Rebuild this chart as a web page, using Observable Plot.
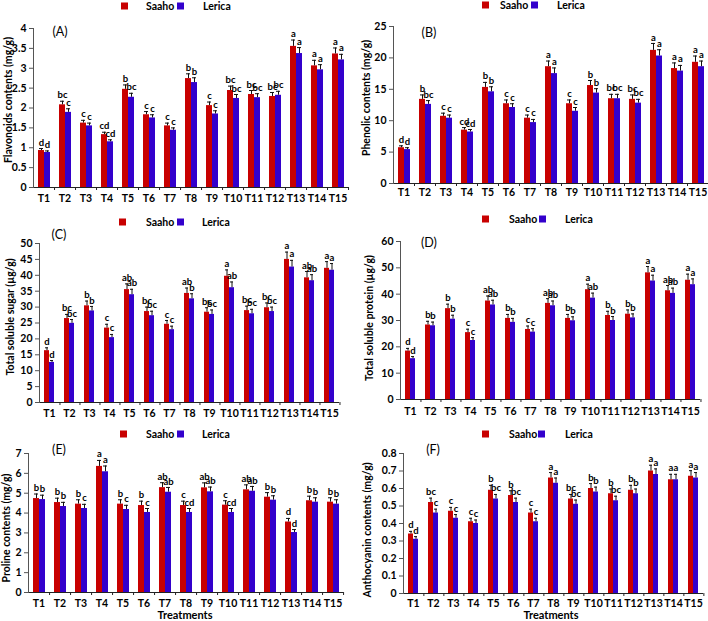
<!DOCTYPE html>
<html>
<head>
<meta charset="utf-8">
<script src="https://cdn.jsdelivr.net/npm/d3@7"></script>
<script src="https://cdn.jsdelivr.net/npm/@observablehq/plot@0.6"></script>
<style>
  html, body { margin: 0; padding: 0; background: #fff; }
  #root { position: relative; width: 708px; height: 621px; overflow: hidden; background: #fff;
          font-family: Lato, "Open Sans", "Liberation Sans", sans-serif; }
  .abs { position: absolute; white-space: nowrap; line-height: 1; }
  .ylab { font-weight: bold; font-size: 10.5px; color: #000; transform: translate(-50%, -50%) rotate(-90deg); }
  .plab { font-size: 12.5px; color: #000; transform: translate(-50%, -50%); }
  .leg { font-weight: bold; font-size: 10.5px; color: #000; transform: translateY(-50%); }
  .sq { width: 7px; height: 7px; transform: translateY(-50%); }
  .xlab { font-weight: bold; font-size: 11px; color: #000; transform: translate(-50%, -50%); }
</style>
</head>
<body>
<div id="root"></div>
<script>
// ---------- data ----------
const treatments = ["T1","T2","T3","T4","T5","T6","T7","T8","T9","T10","T11","T12","T13","T14","T15"];
const series = ["Saaho", "Lerica"];
const seriesColors = ["#c80000", "#3300cc"];

// (A) Flavonoids contents (mg/g)
const flavSaaho  = [0.93, 2.08, 1.62, 1.33, 2.47, 1.83, 1.55, 2.74, 2.06, 2.44, 2.34, 2.29, 3.55, 3.06, 3.36];
const flavLerica = [0.88, 1.89, 1.55, 1.15, 2.27, 1.75, 1.44, 2.64, 1.85, 2.24, 2.26, 2.32, 3.37, 2.96, 3.21];
const flavSaahoErr  = [0.05, 0.09, 0.07, 0.06, 0.11, 0.08, 0.07, 0.12, 0.09, 0.11, 0.10, 0.10, 0.16, 0.14, 0.15];
const flavLericaErr = [0.04, 0.09, 0.07, 0.05, 0.10, 0.08, 0.06, 0.12, 0.08, 0.10, 0.10, 0.10, 0.15, 0.13, 0.14];
const flavSaahoLet  = ["d","bc","c","cd","b","c","c","b","c","bc","bc","bc","a","a","a"];
const flavLericaLet = ["d","c","c","cd","bc","c","c","b","c","bc","bc","bc","a","a","a"];
const flavTicks = [0, 0.5, 1, 1.5, 2, 2.5, 3, 3.5, 4];

// (B) Phenolic contents (mg/g)
const phenSaaho  = [5.7, 13.4, 10.7, 8.5, 15.3, 12.7, 10.4, 18.6, 12.7, 15.6, 13.5, 13.4, 21.2, 18.3, 19.3];
const phenLerica = [5.4, 12.6, 10.4, 8.2, 14.6, 12.1, 9.7, 17.5, 11.5, 14.4, 13.5, 12.8, 20.3, 17.9, 18.6];
const phenSaahoErr  = [0.3, 0.7, 0.5, 0.4, 0.8, 0.6, 0.5, 0.9, 0.6, 0.8, 0.7, 0.7, 1.1, 0.9, 1.0];
const phenLericaErr = [0.3, 0.6, 0.5, 0.4, 0.8, 0.6, 0.5, 0.9, 0.6, 0.7, 0.7, 0.6, 1.0, 0.9, 0.9];
const phenSaahoLet  = ["d","b","c","cd","b","c","c","a","c","b","bc","bc","a","a","a"];
const phenLericaLet = ["d","bc","c","cd","b","c","c","a","c","b","bc","bc","a","a","a"];
const phenTicks = [0, 5, 10, 15, 20, 25];

// (C) Total soluble sugar (µg/g)
const sugSaaho  = [16.3, 26.4, 30.4, 23.4, 35.5, 28.6, 24.6, 34.3, 28.4, 39.7, 28.9, 29.8, 45.0, 39.2, 42.2];
const sugLerica = [12.6, 24.9, 28.8, 20.4, 33.9, 27.3, 22.9, 32.6, 27.7, 36.1, 27.9, 28.6, 42.6, 38.3, 41.6];
const sugSaahoErr  = [0.9, 1.3, 1.5, 1.2, 1.8, 1.4, 1.2, 1.7, 1.4, 2.0, 1.4, 1.5, 2.3, 2.0, 2.1];
const sugLericaErr = [0.6, 1.2, 1.4, 1.0, 1.7, 1.4, 1.1, 1.6, 1.4, 1.8, 1.4, 1.4, 2.1, 1.9, 2.1];
const sugSaahoLet  = ["d","bc","b","c","ab","bc","c","ab","bc","a","bc","bc","a","ab","a"];
const sugLericaLet = ["d","bc","b","c","ab","bc","c","b","bc","ab","bc","bc","a","ab","a"];
const sugTicks = [0, 5, 10, 15, 20, 25, 30, 35, 40, 45, 50];

// (D) Total soluble protein (µg/g)
const protSaaho  = [18.4, 28.3, 34.5, 25.4, 37.4, 30.8, 26.6, 36.5, 30.8, 41.7, 31.9, 32.4, 48.1, 41.3, 45.3];
const protLerica = [15.5, 28.0, 30.5, 22.4, 35.9, 29.3, 25.6, 35.6, 29.9, 38.5, 30.0, 31.0, 45.0, 40.3, 43.6];
const protSaahoErr  = [1.0, 1.4, 1.7, 1.3, 1.9, 1.5, 1.3, 1.8, 1.5, 2.1, 1.6, 1.6, 2.4, 2.0, 2.3];
const protLericaErr = [0.8, 1.4, 1.5, 1.1, 1.8, 1.5, 1.3, 1.8, 1.5, 1.9, 1.5, 1.5, 2.2, 2.0, 2.2];
const protSaahoLet  = ["d","b","b","c","ab","b","c","ab","b","a","b","b","a","ab","a"];
const protLericaLet = ["d","b","b","c","ab","b","c","ab","b","ab","b","b","a","ab","a"];
const protTicks = [0, 10, 20, 30, 40, 50, 60];

// (E) Proline contents (mg/g)
const proSaaho  = [4.73, 4.53, 4.45, 6.35, 4.45, 4.38, 5.28, 4.38, 5.27, 4.40, 5.17, 4.80, 3.55, 4.62, 4.55];
const proLerica = [4.68, 4.33, 4.23, 6.08, 4.18, 4.03, 5.05, 4.03, 5.07, 4.03, 5.10, 4.65, 3.02, 4.55, 4.45];
const proSaahoErr  = [0.23, 0.22, 0.22, 0.30, 0.22, 0.22, 0.25, 0.22, 0.25, 0.22, 0.25, 0.23, 0.18, 0.23, 0.22];
const proLericaErr = [0.22, 0.21, 0.21, 0.29, 0.21, 0.20, 0.24, 0.20, 0.24, 0.20, 0.24, 0.22, 0.15, 0.22, 0.22];
const proSaahoLet  = ["b","b","b","a","b","b","ab","c","ab","c","ab","b","d","b","b"];
const proLericaLet = ["b","b","c","a","c","c","ab","cd","ab","cd","ab","b","d","b","b"];
const proTicks = [0, 1, 2, 3, 4, 5, 6, 7];

// (F) Anthocyanin contents (mg/g)
const antSaaho  = [0.34, 0.52, 0.47, 0.41, 0.59, 0.56, 0.46, 0.66, 0.54, 0.60, 0.57, 0.59, 0.70, 0.65, 0.67];
const antLerica = [0.31, 0.46, 0.43, 0.40, 0.54, 0.52, 0.41, 0.63, 0.51, 0.58, 0.53, 0.57, 0.68, 0.65, 0.66];
const antSaahoErr  = [0.015, 0.025, 0.022, 0.020, 0.028, 0.027, 0.022, 0.031, 0.026, 0.028, 0.027, 0.028, 0.033, 0.031, 0.032];
const antLericaErr = [0.015, 0.022, 0.021, 0.020, 0.026, 0.025, 0.020, 0.030, 0.024, 0.028, 0.026, 0.027, 0.032, 0.031, 0.031];
const antSaahoLet  = ["d","bc","c","c","b","b","c","a","bc","b","b","b","a","a","a"];
const antLericaLet = ["d","c","c","c","bc","bc","c","a","bc","b","bc","b","a","a","a"];
const antTicks = [0, 0.1, 0.2, 0.3, 0.4, 0.5, 0.6, 0.7, 0.8];

// ---------- panels (data references + layout) ----------
const panels = [
  { tag: "(A)", ylabel: "Flavonoids contents (mg/g)", S: flavSaaho, L: flavLerica, SE: flavSaahoErr, LE: flavLericaErr, SL: flavSaahoLet, LL: flavLericaLet, ticks: flavTicks,
    left: 0, top: 14, height: 196, mt: 14, mb: 23, ml: 32, mr: 6, tp: 7,
    ylx: 8, yly: 100, tagx: 60, tagy: 32, legy: 6, legx: [121, 146, 177, 203] },
  { tag: "(B)", ylabel: "Phenolic contents (mg/g)", S: phenSaaho, L: phenLerica, SE: phenSaahoErr, LE: phenLericaErr, SL: phenSaahoLet, LL: phenLericaLet, ticks: phenTicks,
    left: 354, top: 14, height: 196, mt: 12, mb: 27, ml: 39, mr: 0, tp: 5,
    ylx: 366, yly: 98, tagx: 429, tagy: 33, legy: 5, legx: [482, 500, 531, 557] },
  { tag: "(C)", ylabel: "Total soluble sugar (µg/g)", S: sugSaaho, L: sugLerica, SE: sugSaahoErr, LE: sugLericaErr, SL: sugSaahoLet, LL: sugLericaLet, ticks: sugTicks,
    left: 0, top: 230, height: 195, mt: 13, mb: 23, ml: 32, mr: 8, tp: 7,
    ylx: 10, yly: 317, tagx: 59, tagy: 235, legy: 222, legx: [119, 146, 177, 202] },
  { tag: "(D)", ylabel: "Total soluble protein (µg/g)", S: protSaaho, L: protLerica, SE: protSaahoErr, LE: protLericaErr, SL: protSaahoLet, LL: protLericaLet, ticks: protTicks,
    left: 354, top: 230, height: 195, mt: 11, mb: 26, ml: 39, mr: 1, tp: 8,
    ylx: 369, yly: 318, tagx: 429, tagy: 243, legy: 219, legx: [482, 509, 539, 565] },
  { tag: "(E)", ylabel: "Proline contents (mg/g)", S: proSaaho, L: proLerica, SE: proSaahoErr, LE: proLericaErr, SL: proSaahoLet, LL: proLericaLet, ticks: proTicks,
    left: 0, top: 442, height: 179, mt: 11, mb: 29, ml: 27, mr: 10, tp: 7,
    ylx: 6, yly: 528, tagx: 59, tagy: 450, legy: 434, legx: [120, 146, 177, 202], xlab: [185, 614] },
  { tag: "(F)", ylabel: "Anthocyanin contents (mg/g)", S: antSaaho, L: antLerica, SE: antSaahoErr, LE: antLericaErr, SL: antSaahoLet, LL: antLericaLet, ticks: antTicks,
    left: 354, top: 442, height: 179, mt: 11, mb: 28, ml: 43, mr: 0, tp: 6,
    ylx: 367, yly: 530, tagx: 433, tagy: 450, legy: 434, legx: [482, 509, 538, 565], xlab: [551, 614] }
];

const root = document.getElementById("root");
function addDiv(cls, x, y, html, extra) {
  const d = document.createElement("div");
  d.className = "abs " + cls;
  d.style.left = x + "px";
  d.style.top = y + "px";
  if (html != null) d.textContent = html;
  if (extra) Object.assign(d.style, extra);
  root.appendChild(d);
  return d;
}

for (const p of panels) {
  const rows = treatments.flatMap((t, i) => [
    { T: t, s: series[0], v: p.S[i], e: p.SE[i], l: p.SL[i] },
    { T: t, s: series[1], v: p.L[i], e: p.LE[i], l: p.LL[i] }
  ]);
  const ymax = p.ticks[p.ticks.length - 1];
  const hi = d => d.v + d.e;
  const halfBand = (354 - p.ml - p.mr) / treatments.length / 2;
  const chart = Plot.plot({
    width: 354,
    height: p.height,
    marginTop: p.mt, marginBottom: p.mb, marginLeft: p.ml, marginRight: p.mr,
    style: { fontFamily: 'Lato, "Open Sans", sans-serif', fontSize: "10.5px", fontWeight: "bold", color: "#000", background: "transparent", overflow: "visible" },
    fx: { domain: treatments, paddingInner: 0, paddingOuter: 0, label: null },
    x: { domain: series, paddingInner: 0, paddingOuter: 0.75, axis: null },
    y: { domain: [0, ymax], axis: null },
    color: { domain: series, range: seriesColors },
    marks: [
      Plot.barY(rows, { fx: "T", x: "s", y: "v", fill: "s" }),
      Plot.ruleX(rows, { fx: "T", x: "s", y1: "v", y2: hi, stroke: "#111", strokeWidth: 1 }),
      Plot.tickY(rows, { fx: "T", x: "s", y: hi, stroke: "#111", strokeWidth: 1, insetLeft: 1, insetRight: 1 }),
      Plot.text(rows, { fx: "T", x: "s", y: hi, text: "l", dy: -6, fontSize: 9.5, fontWeight: "bold", fill: "#000" }),
      Plot.ruleY([0], { stroke: "#222" }),
      Plot.frame({ anchor: "left", facetAnchor: "left", stroke: "#555" }),
      Plot.axisY({ ticks: p.ticks, tickSize: 4, tickPadding: 3, tickFormat: d => String(d), label: null, stroke: "#555" }),
      Plot.axisFx({ anchor: "bottom", tickSize: 3, tickFormat: () => "", label: null, dx: halfBand, stroke: "#222" }),
      Plot.axisFx({ anchor: "bottom", tickSize: 0, tickPadding: p.tp, label: null })
    ]
  });
  const holder = addDiv("", p.left, p.top, null);
  holder.appendChild(chart);

  addDiv("ylab", p.ylx, p.yly, p.ylabel);
  addDiv("plab", p.tagx, p.tagy, p.tag);
  addDiv("sq", p.legx[0], p.legy, null, { background: seriesColors[0] });
  addDiv("leg", p.legx[1], p.legy, series[0]);
  addDiv("sq", p.legx[2], p.legy, null, { background: seriesColors[1] });
  addDiv("leg", p.legx[3], p.legy, series[1]);
  if (p.xlab) addDiv("xlab", p.xlab[0], p.xlab[1], "Treatments");
}
</script>
</body>
</html>
